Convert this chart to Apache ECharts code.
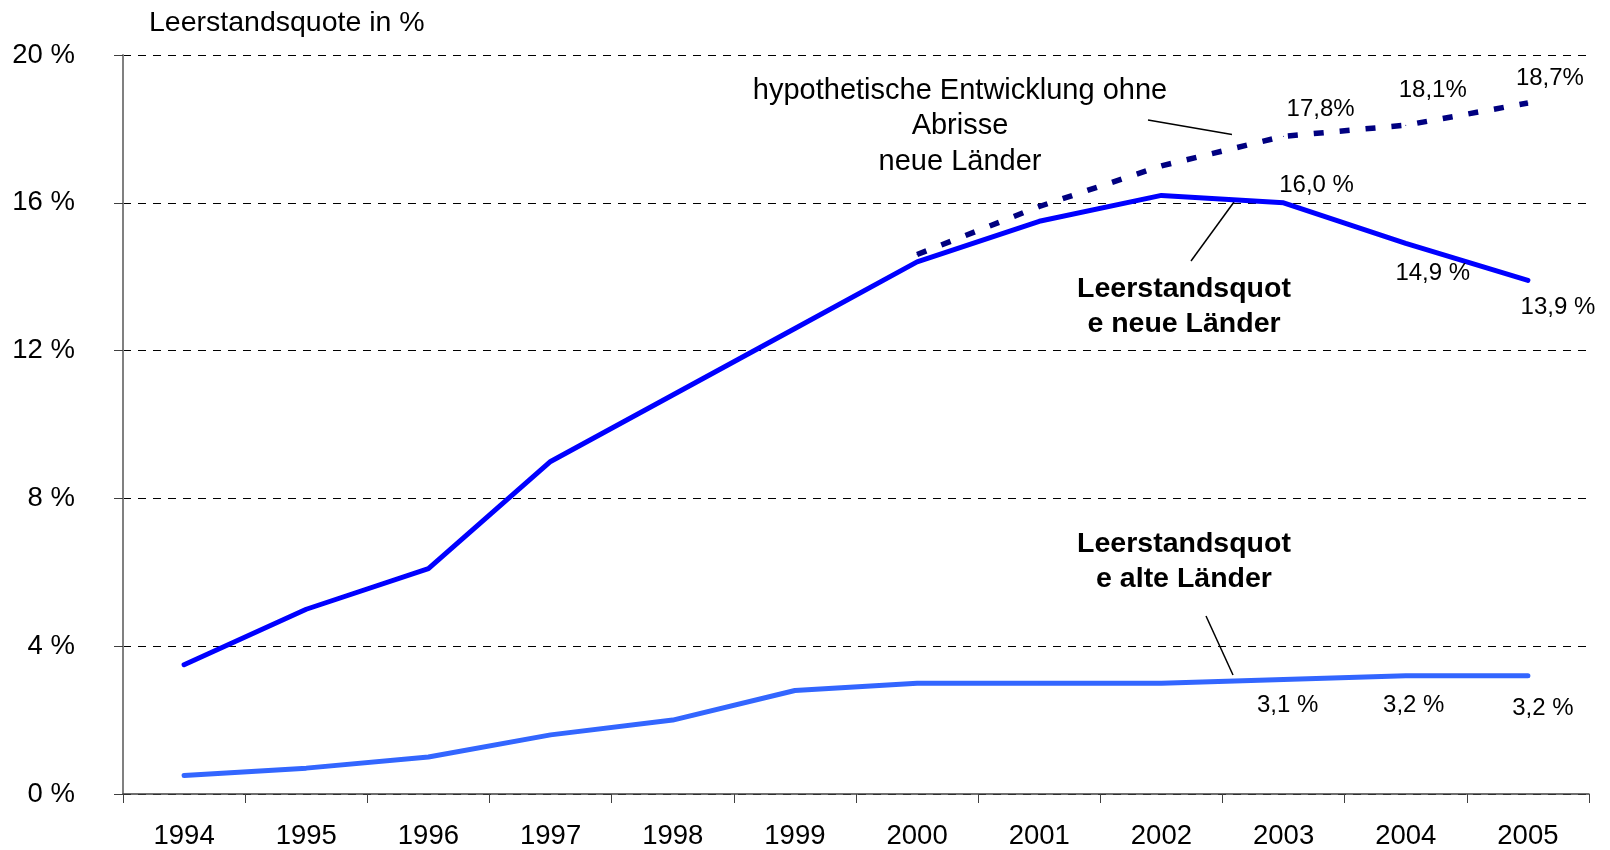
<!DOCTYPE html>
<html>
<head>
<meta charset="utf-8">
<script src="https://cdn.jsdelivr.net/npm/echarts@6/dist/echarts.min.js"></script>
<style>
html,body{margin:0;padding:0;background:#fff;}
#chart{width:1610px;height:850px;}
</style>
</head>
<body>
<div id="chart"></div>
<script>
// Leerstandsquote neue / alte Länder 1994-2005
var years = ['1994','1995','1996','1997','1998','1999','2000','2001','2002','2003','2004','2005'];
var neueLaender = [3.5, 5.0, 6.1, 9.0, 10.8, 12.6, 14.4, 15.5, 16.2, 16.0, 14.9, 13.9];
var alteLaender = [0.5, 0.7, 1.0, 1.6, 2.0, 2.8, 3.0, 3.0, 3.0, 3.1, 3.2, 3.2];
var ohneAbrisse = [null, null, null, null, null, null, 14.6, 15.9, 17.0, 17.8, 18.1, 18.7];

var neueLabels = [null, null, null, null, null, null, null, null, null, '16,0 %', '14,9 %', '13,9 %'];
var alteLabels = [null, null, null, null, null, null, null, null, null, '3,1 %', '3,2 %', '3,2 %'];
var ohneLabels = [null, null, null, null, null, null, null, null, null, '17,8%', '18,1%', '18,7%'];

// label offsets (pixels from the point)
var neueOffsets = {9: [33, -17], 10: [27, 30], 11: [30, 27]};
var alteOffsets = {9: [4, 26], 10: [8, 30], 11: [15, 33]};
var ohneOffsets = {9: [37, -27], 10: [27, -35], 11: [22, -25]};

var FONT = '"Liberation Sans", Arial, sans-serif';

function buildData(values, labels, offsets) {
	var out = [];
	for (var i = 0; i < values.length; i++) {
		var item = {value: values[i]};
		if (labels[i]) {
			item.label = {
				show: true,
				formatter: labels[i],
				position: 'inside',
				offset: offsets[i],
				color: '#000',
				fontSize: 24,
				fontFamily: FONT
			};
		}
		out.push(item);
	}
	return out;
}

var myChart = echarts.init(document.getElementById('chart'));

var option = {
	animation: false,
	backgroundColor: '#fff',
	title: {
		text: 'Leerstandsquote in %',
		left: 144,
		top: 4,
		textStyle: {fontSize: 28.5, fontWeight: 'normal', color: '#000', fontFamily: FONT}
	},
	grid: {left: 123, right: 21, top: 55, bottom: 55},
	xAxis: {
		type: 'category',
		data: years,
		boundaryGap: true,
		axisLine: {lineStyle: {color: '#404040', width: 1.5}},
		axisTick: {show: true, length: 9, lineStyle: {color: '#404040'}},
		axisLabel: {color: '#000', fontSize: 27.5, fontFamily: FONT, margin: 28}
	},
	yAxis: {
		type: 'value',
		min: 0,
		max: 20,
		interval: 4,
		axisLine: {show: true, lineStyle: {color: '#808080', width: 2}},
		axisTick: {show: true, length: 9, lineStyle: {color: '#404040'}},
		axisLabel: {color: '#000', fontSize: 27.5, fontFamily: FONT, margin: 48, formatter: '{value} %'},
		splitLine: {lineStyle: {color: '#000', type: [8, 7], width: 1}}
	},
	series: [
		{
			name: 'Leerstandsquote neue Länder',
			type: 'line',
			data: buildData(neueLaender, neueLabels, neueOffsets),
			symbol: 'circle',
			symbolSize: 1,
			showSymbol: true,
			itemStyle: {color: '#0000FF'},
			lineStyle: {color: '#0000FF', width: 5, cap: 'round'}
		},
		{
			name: 'Leerstandsquote alte Länder',
			type: 'line',
			data: buildData(alteLaender, alteLabels, alteOffsets),
			symbol: 'circle',
			symbolSize: 1,
			showSymbol: true,
			itemStyle: {color: '#3366FF'},
			lineStyle: {color: '#3366FF', width: 5, cap: 'round'}
		},
		{
			name: 'hypothetische Entwicklung ohne Abrisse',
			type: 'line',
			data: buildData(ohneAbrisse, ohneLabels, ohneOffsets),
			symbol: 'circle',
			symbolSize: 1,
			showSymbol: true,
			connectNulls: false,
			itemStyle: {color: '#000080'},
			lineStyle: {color: '#000080', width: 5.5, type: [10, 16]}
		}
	],
	graphic: [
		{
			type: 'text', x: 960, y: 126,
			style: {
				text: 'hypothetische Entwicklung ohne\nAbrisse\nneue Länder',
				align: 'center', verticalAlign: 'middle', lineHeight: 35.5,
				fontSize: 29, fontFamily: FONT, fill: '#000'
			}
		},
		{type: 'line', shape: {x1: 1148, y1: 120, x2: 1232, y2: 134.5}, style: {stroke: '#000', lineWidth: 1.5}},
		{
			type: 'text', x: 1184, y: 307,
			style: {
				text: 'Leerstandsquot\ne neue Länder',
				align: 'center', verticalAlign: 'middle', lineHeight: 35,
				fontSize: 28.5, fontWeight: 'bold', fontFamily: FONT, fill: '#000'
			}
		},
		{type: 'line', shape: {x1: 1191, y1: 261, x2: 1234, y2: 202}, style: {stroke: '#000', lineWidth: 1.5}},
		{
			type: 'text', x: 1184, y: 562,
			style: {
				text: 'Leerstandsquot\ne alte Länder',
				align: 'center', verticalAlign: 'middle', lineHeight: 35,
				fontSize: 28.5, fontWeight: 'bold', fontFamily: FONT, fill: '#000'
			}
		},
		{type: 'line', shape: {x1: 1206, y1: 616, x2: 1233, y2: 675}, style: {stroke: '#000', lineWidth: 1.5}}
	]
};

myChart.setOption(option);
</script>
</body>
</html>
